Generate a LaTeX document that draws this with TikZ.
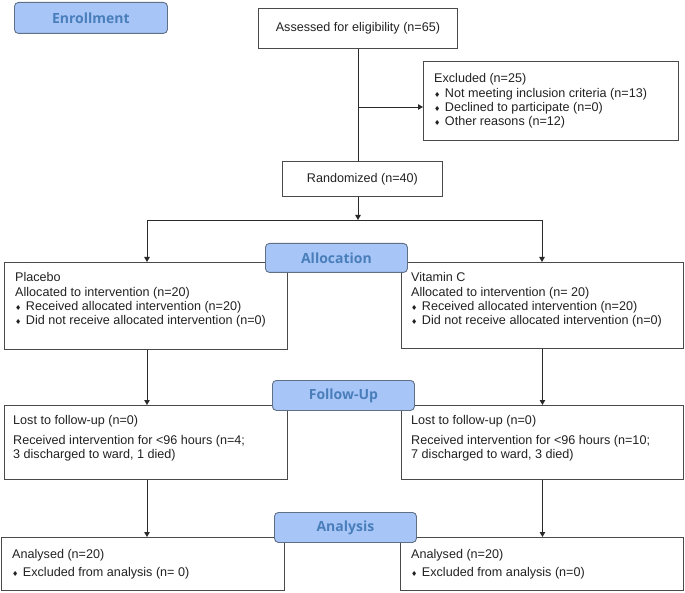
\documentclass[tikz,border=0pt]{standalone}
\usepackage{fontspec}
\setmainfont{Liberation Sans}
\newfontfamily\symfont{DejaVu Sans}
\newfontfamily\lblfont{Open Sans}
\usetikzlibrary{arrows.meta}
\definecolor{lfill}{HTML}{A7C6F7}
\definecolor{lborder}{HTML}{5F6F86}
\definecolor{ltext}{HTML}{4A7EBB}
\definecolor{bord}{HTML}{4A4A4A}
\definecolor{lin}{HTML}{2A2A2A}
\definecolor{txt}{HTML}{222222}
\newcommand\bul{{\symfont\fontsize{7}{7}\selectfont ♦}\hspace{4.5pt}}
\begin{document}
\begin{tikzpicture}[x=1pt,y=-1pt,
  box/.style={draw=bord,line width=0.9pt,fill=white,anchor=north west,inner sep=0pt},
  ctext/.style={box,align=center,text=txt,font=\fontsize{12.6}{14.5}\selectfont},
  btext/.style={anchor=north west,inner sep=0pt,align=left,text=txt,font=\fontsize{12.6}{#1}\selectfont},
  btext/.default=14.5,
  lbl/.style={draw=lborder,line width=0.9pt,fill=lfill,rounded corners=4pt,anchor=north west,inner sep=0pt,text=ltext,font=\lblfont\bfseries\fontsize{14}{14}\selectfont},
  conn/.style={draw=lin,line width=0.9pt},
  arr/.style={conn,-{Triangle[width=5.5pt,length=5pt]}}]
\useasboundingbox (0,0) rectangle (685,593);

% boxes
\node[ctext,minimum width=199pt,minimum height=40pt] (assess) at (258,8) {Assessed for eligibility (n=65)};
\node[box,minimum width=255pt,minimum height=79pt] (excl) at (423,61) {};
\node[ctext,minimum width=160pt,minimum height=35pt] (rand) at (282,161) {Randomized (n=40)};
\node[box,minimum width=283pt,minimum height=87pt] (plac) at (4,262) {};
\node[box,minimum width=282pt,minimum height=86pt] (vitc) at (401,262) {};
\node[box,minimum width=283pt,minimum height=74pt] (fuL) at (4,405) {};
\node[box,minimum width=282pt,minimum height=74pt] (fuR) at (401,405) {};
\node[box,minimum width=283pt,minimum height=53pt] (anL) at (1,537) {};
\node[box,minimum width=283pt,minimum height=53pt] (anR) at (400,537) {};

% box texts
\node[btext=14.3] (exclT) at ([xshift=11pt,yshift=-12.5pt]excl.north west) {Excluded (n=25)\\ \bul Not meeting inclusion criteria (n=13)\\ \bul Declined to participate (n=0)\\ \bul Other reasons (n=12)};
\node[btext=14.3] (placT) at ([xshift=11pt,yshift=-10.5pt]plac.north west) {Placebo\\Allocated to intervention (n=20)\\ \bul Received allocated intervention (n=20)\\ \bul Did not receive allocated intervention (n=0)};
\node[btext=14.3] (vitcT) at ([xshift=10pt,yshift=-10.5pt]vitc.north west) {Vitamin C\\Allocated to intervention (n= 20)\\ \bul Received allocated intervention (n=20)\\ \bul Did not receive allocated intervention (n=0)};
\node[btext=13.5] (fuLT) at ([xshift=9pt,yshift=-10.5pt]fuL.north west) {Lost to follow-up (n=0)\\[6.5pt]Received intervention for <96 hours (n=4;\\3 discharged to ward, 1 died)};
\node[btext=13.5] (fuRT) at ([xshift=10pt,yshift=-10.5pt]fuR.north west) {Lost to follow-up (n=0)\\[6.5pt]Received intervention for <96 hours (n=10;\\7 discharged to ward, 3 died)};
\node[btext=18] (anLT) at ([xshift=11pt,yshift=-12.5pt]anL.north west) {Analysed (n=20)\\ \bul Excluded from analysis (n= 0)};
\node[btext=18] (anRT) at ([xshift=11pt,yshift=-12.5pt]anR.north west) {Analysed (n=20)\\ \bul Excluded from analysis (n=0)};

% connectors
\coordinate (br) at (358,107);
\coordinate (spM) at (358,220);
\coordinate (spL) at (147,220);
\coordinate (spR) at (542,220);

\draw[conn] (assess.south) -- (assess.south |- rand.north);
\draw[arr] (br) -- (br -| excl.west);
\draw[arr] (spM |- rand.south) -- (spM);
\draw[conn] (spL) -- (spR);
\draw[arr] (spL) -- (spL |- plac.north);
\draw[arr] (spR) -- (spR |- vitc.north);
\draw[arr] (spL |- plac.south) -- (spL |- fuL.north);
\draw[arr] (vitc.south) -- (fuR.north);
\draw[arr] (spL |- fuL.south) -- (spL |- anL.north);
\draw[arr] (fuR.south) -- (fuR.south |- anR.north);

% stage labels
\node[lbl,minimum width=153pt,minimum height=31pt] (enr) at (14,2) {Enrollment};
\node[lbl,minimum width=142pt,minimum height=29pt] (alloc) at (265,243) {Allocation};
\node[lbl,minimum width=142pt,minimum height=30pt] (fu) at (272,380) {Follow-Up};
\node[lbl,minimum width=142pt,minimum height=30pt] (an) at (274,512) {Analysis};
\end{tikzpicture}
\end{document}
